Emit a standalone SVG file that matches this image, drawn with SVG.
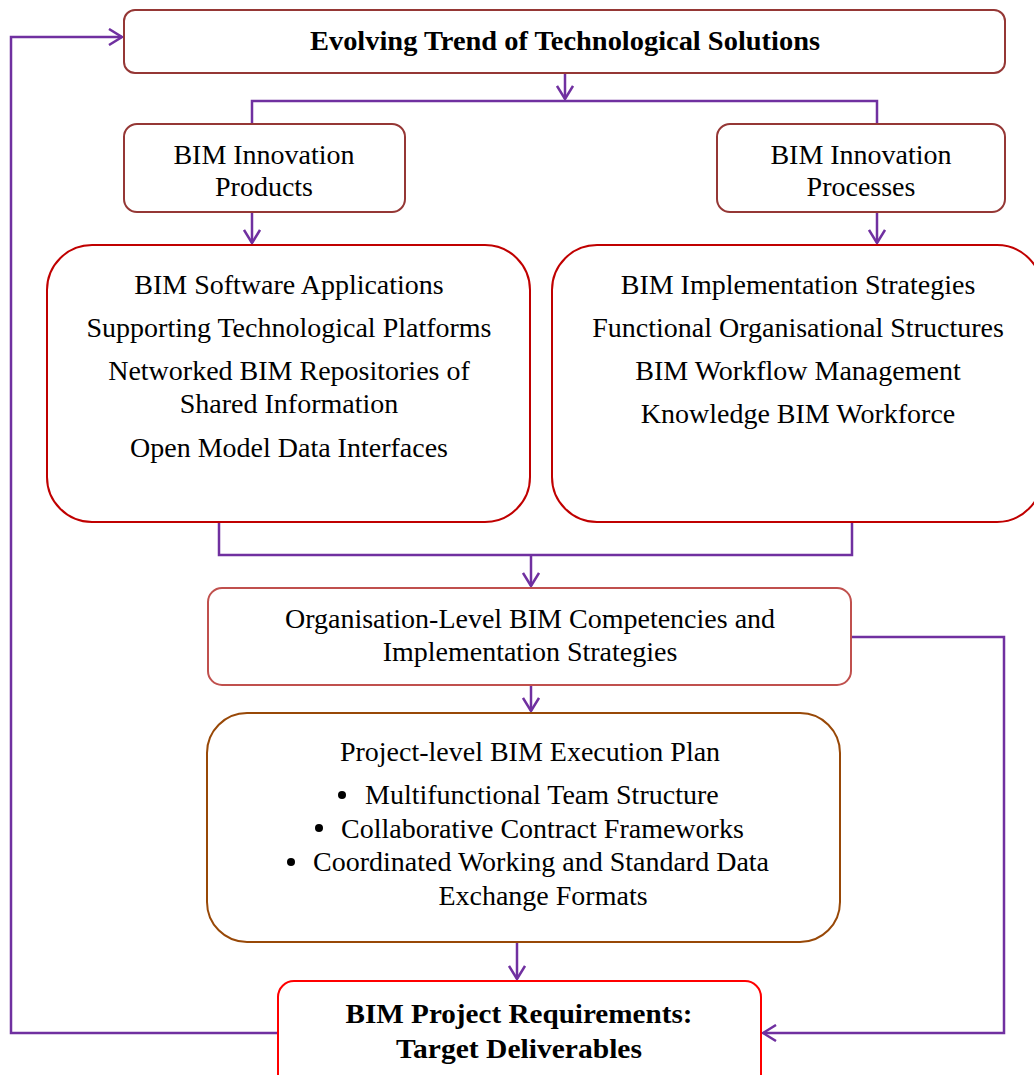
<svg xmlns="http://www.w3.org/2000/svg" width="1034" height="1075" viewBox="0 0 1034 1075">
<style>
.t{font-family:"Liberation Serif","Times New Roman",serif;font-size:28px;fill:#000;text-anchor:middle}
.s{text-anchor:start}
.b{font-weight:bold}
.c{fill:none;stroke:#7030A0;stroke-width:2.5}
.n{fill:#fff;stroke-width:2}
</style>
<defs>
<marker id="ah" markerWidth="16" markerHeight="18" refX="14" refY="9" orient="auto" markerUnits="userSpaceOnUse">
<path d="M1,1 L14,9 L1,17" fill="none" stroke="#7030A0" stroke-width="2.5"/>
</marker>
</defs>
<rect width="1034" height="1075" fill="#fff"/>
<g id="connectors">
<path class="c" d="M565,73 V99" marker-end="url(#ah)"/>
<path class="c" d="M252,124 V101 H877 V124"/>
<path class="c" d="M252,212 V243" marker-end="url(#ah)"/>
<path class="c" d="M877,212 V243" marker-end="url(#ah)"/>
<path class="c" d="M219,522 V555 H852 V522"/>
<path class="c" d="M531,555 V586" marker-end="url(#ah)"/>
<path class="c" d="M531,685 V711" marker-end="url(#ah)"/>
<path class="c" d="M517,942 V979" marker-end="url(#ah)"/>
<path class="c" d="M851,637 H1004 V1033 H763" marker-end="url(#ah)"/>
<path class="c" d="M278,1033 H11 V37 H122" marker-end="url(#ah)"/>
</g>
<g id="top">
<rect class="n" x="124" y="10" width="881" height="63" rx="11" stroke="#953735"/>
<text class="t b" x="565" y="50" textLength="510" lengthAdjust="spacingAndGlyphs">Evolving Trend of Technological Solutions</text>
</g>
<g id="products">
<rect class="n" x="124" y="124" width="281" height="88" rx="13" stroke="#953735"/>
<text class="t" x="264" y="164">BIM Innovation</text>
<text class="t" x="264" y="196">Products</text>
</g>
<g id="processes">
<rect class="n" x="717" y="124" width="288" height="88" rx="13" stroke="#953735"/>
<text class="t" x="861" y="164">BIM Innovation</text>
<text class="t" x="861" y="196">Processes</text>
</g>
<g id="productList">
<rect class="n" x="47" y="245" width="483" height="277" rx="45" stroke="#C00000"/>
<text class="t" x="289" y="294">BIM Software Applications</text>
<text class="t" x="289" y="337">Supporting Technological Platforms</text>
<text class="t" x="289" y="380">Networked BIM Repositories of</text>
<text class="t" x="289" y="413">Shared Information</text>
<text class="t" x="289" y="457">Open Model Data Interfaces</text>
</g>
<g id="processList">
<rect class="n" x="552" y="245" width="490" height="277" rx="45" stroke="#C00000"/>
<text class="t" x="798" y="294">BIM Implementation Strategies</text>
<text class="t" x="798" y="337">Functional Organisational Structures</text>
<text class="t" x="798" y="380">BIM Workflow Management</text>
<text class="t" x="798" y="423">Knowledge BIM Workforce</text>
</g>
<g id="organisation">
<rect class="n" x="208" y="588" width="643" height="97" rx="14" stroke="#C0504D"/>
<text class="t" x="530" y="628">Organisation-Level BIM Competencies and</text>
<text class="t" x="530" y="661">Implementation Strategies</text>
</g>
<g id="project">
<rect class="n" x="207" y="713" width="633" height="229" rx="40" stroke="#984807"/>
<text class="t" x="530" y="761">Project-level BIM Execution Plan</text>
<circle cx="342" cy="795" r="4"/>
<text class="t s" x="365" y="804">Multifunctional Team Structure</text>
<circle cx="319" cy="828" r="4"/>
<text class="t s" x="341" y="838">Collaborative Contract Frameworks</text>
<circle cx="291" cy="862" r="4"/>
<text class="t s" x="313" y="871">Coordinated Working and Standard Data</text>
<text class="t" x="543" y="905">Exchange Formats</text>
</g>
<g id="requirements">
<rect class="n" x="278" y="981" width="483" height="110" rx="16" stroke="#FF0000"/>
<text class="t b" x="519" y="1023" textLength="347" lengthAdjust="spacingAndGlyphs">BIM Project Requirements:</text>
<text class="t b" x="519" y="1058" textLength="246" lengthAdjust="spacingAndGlyphs">Target Deliverables</text>
</g>
</svg>
